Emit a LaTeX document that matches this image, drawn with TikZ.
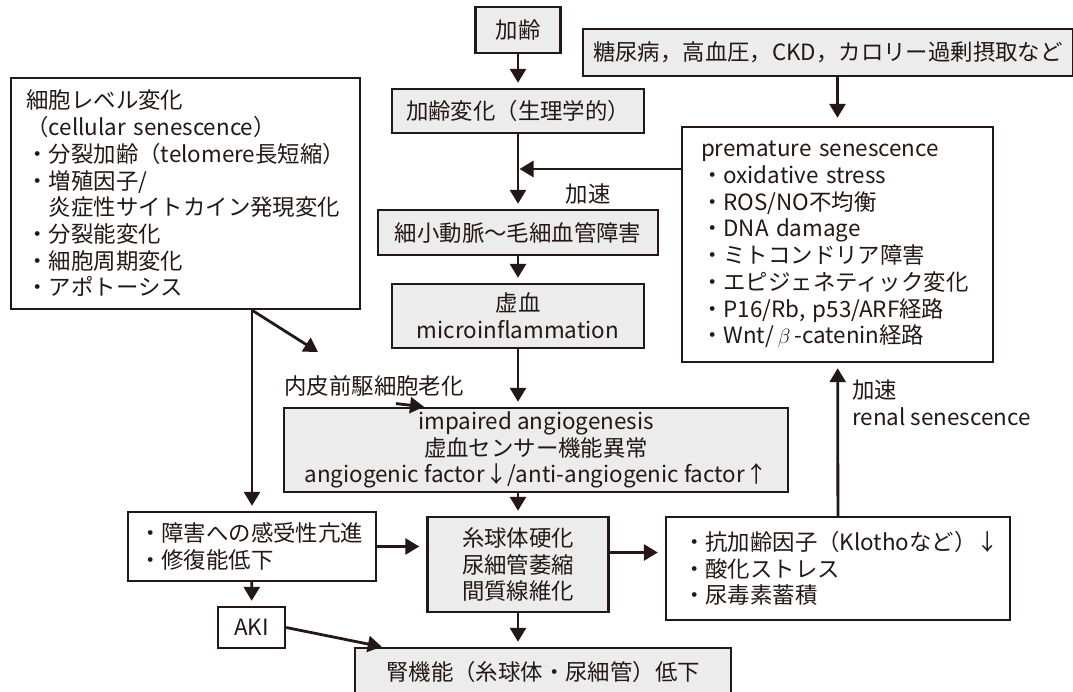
\documentclass[tikz,border=0pt]{standalone}
\usepackage{fontspec}
\setmainfont{Noto Sans CJK JP}
\usetikzlibrary{arrows.meta,positioning}
\definecolor{ink}{HTML}{231815}
\definecolor{boxgray}{HTML}{ECECEC}

\begin{document}
\begin{tikzpicture}[x=1pt,y=-1pt,
  box/.style={draw=ink,line width=2.4pt,fill=white,inner sep=0pt,text=ink,font=\fontsize{22.4}{26.7}\selectfont},
  gbox/.style={box,fill=boxgray,align=center},
  lbox/.style={box,align=left},
  lbl/.style={inner sep=0pt,text=ink,align=left,font=\fontsize{22.4}{26.7}\selectfont},
  arrow/.style={-{Triangle[length=14pt,width=16pt]},line width=2.8pt,draw=ink,shorten >=5pt}
]
\useasboundingbox (0,0) rectangle (1073,692);

\node[gbox,minimum width=85pt,minimum height=46pt] (age) at (518,30) {加齢};
\node[gbox,minimum width=252pt,minimum height=44pt] (aging) at (518,111) {加齢変化（生理学的）};
\node[gbox,minimum width=280pt,minimum height=45pt] (micro) at (518,232.5) {細小動脈～毛細血管障害};
\node[gbox,minimum width=252pt,minimum height=64pt] (ischemia) at (518,316) {虚血\\microinflammation};
\node[gbox,minimum width=504pt,minimum height=84pt] (impaired) at (536,450)
  {impaired angiogenesis\\虚血センサー機能異常\\angiogenic factor↓/anti-angiogenic factor↑};
\node[gbox,minimum width=181pt,minimum height=95pt] (glom) at (518,564.5) {糸球体硬化\\尿細管萎縮\\間質線維化};
\node[gbox,minimum width=376pt,minimum height=48pt] (kidney) at (543,672) {腎機能（糸球体・尿細管）低下};

\node[lbox,fill=boxgray,text width=470pt,inner xsep=10pt,minimum height=47pt] (risk) at (828,52.5)
  {糖尿病，高血圧，CKD，カロリー過剰摂取など};
\node[lbox,text width=318pt,inner xsep=15.5pt,minimum height=231pt] (cell) at (185.5,193.5)
  {細胞レベル変化\\（cellular senescence）\\・分裂加齢（telomere長短縮）\\・増殖因子/\\　炎症性サイトカイン発現変化\\・分裂能変化\\・細胞周期変化\\・アポトーシス};
\node[lbox,text width=273pt,inner xsep=19pt,minimum height=235pt] (premature) at (837.5,244.5)
  {premature senescence\\・oxidative stress\\・ROS/NO不均衡\\・DNA damage\\・ミトコンドリア障害\\・エピジェネティック変化\\・P16/Rb, p53/ARF経路\\・Wnt/\,$\beta$\,-catenin経路};
\node[lbox,text width=226pt,inner xsep=11pt,minimum height=69pt] (sus) at (252,546.5) {・障害への感受性亢進\\・修復能低下};
\node[box,minimum width=67pt,minimum height=41pt] (aki) at (251.5,627.5) {AKI};
\node[lbox,text width=310pt,inner xsep=17pt,minimum height=103pt] (klotho) at (838,568.5)
  {・抗加齢因子（Klothoなど）↓\\・酸化ストレス\\・尿毒素蓄積};

\node[lbl] (accel) at (588,194) {加速};
\node[lbl] (epc) at (374,386) {内皮前駆細胞老化};
\node[lbl,anchor=west] (renal) at (852,403) {加速\\renal senescence};

\coordinate (join) at (518,169);
\coordinate (epctip) at (318,352);

\draw[arrow] (age) -- (aging);
\draw[arrow] (aging) -- (micro);
\draw[arrow,shorten >=1.5pt] (premature.west |- join) -- (join);
\draw[arrow] (micro) -- (ischemia);
\draw[arrow] (ischemia) -- (ischemia |- impaired.north);
\draw[arrow] (impaired.south -| glom) -- (glom);
\draw[arrow] (glom) -- (kidney.north -| glom);
\draw[arrow,shorten >=8pt] (risk.south -| premature) -- (premature);
\draw[arrow] (klotho) -- (premature);
\draw[arrow] (cell.south -| sus) -- (sus);
\draw[arrow,shorten >=0pt] (cell.south -| sus) -- (epctip);
\draw[arrow,shorten >=0pt] ([xshift=22pt,yshift=-7pt]epc.south) -- ([xshift=-112pt]impaired.north);
\draw[arrow,shorten >=7pt] (sus.east) -- (sus.east -| glom.west);
\draw[arrow,shorten >=7pt] ([yshift=12pt]glom.east) -- ([yshift=12pt]glom.east -| klotho.west);
\draw[arrow] (sus) -- (aki);
\draw[arrow,shorten >=0pt] (aki.east) -- ([xshift=28pt]kidney.north west);
\end{tikzpicture}
\end{document}
